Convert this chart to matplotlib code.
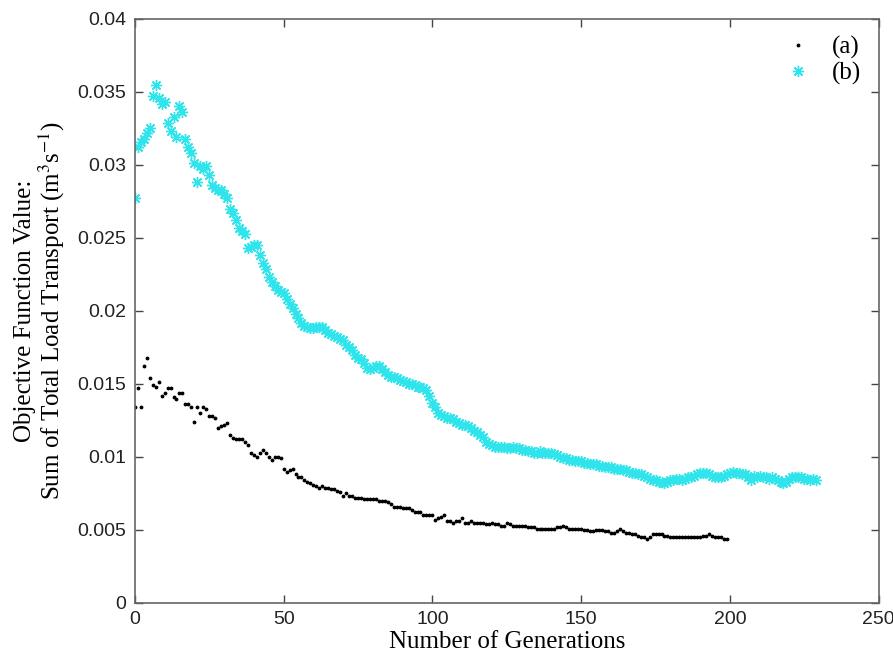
import numpy as np
import matplotlib
matplotlib.use("Agg")
import matplotlib.pyplot as plt

matplotlib.rcParams['mathtext.fontset'] = 'stix'

# (a) black dots, generations 0..199
gen_a = np.arange(0, 200)
obj_a = [
    .0134, .0147, .0134, .0162, .0168, .0154, .0149, .0148, .0151, .0142,
    .0144, .0147, .0147, .0141, .0140, .0144, .0144, .0136, .0136, .0134,
    .0124, .0134, .0130, .0134, .0133, .0128, .0128, .0127, .0120, .0121,
    .0122, .0123, .0115, .0113, .0112, .0112, .0112, .0110, .0108, .0103,
    .0101, .0100, .0103, .0105, .0103, .0100, .0098, .0100, .0100, .0099,
    .0092, .0090, .0091, .0092, .0088, .0086, .0086, .0084, .0083, .0082,
    .0081, .0080, .0079, .0080, .0079, .0079, .0078, .0078, .0077, .0076,
    .0073, .0075, .0073, .0073, .0072, .0072, .0072, .0071, .0071, .0071,
    .0071, .0071, .0070, .0070, .0070, .0069, .0068, .0066, .0066, .0066,
    .0065, .0065, .0065, .0064, .0062, .0062, .0062, .0060, .0060, .0060,
    .0060, .0057, .0058, .0059, .0060, .0056, .0056, .0055, .0056, .0056,
    .0058, .0055, .0055, .0056, .0055, .0055, .0055, .0055, .0054, .0054,
    .0055, .0054, .0054, .0053, .0053, .0055, .0054, .0053, .0053, .0053,
    .0053, .0053, .0052, .0052, .0052, .0051, .0051, .0051, .0051, .0051,
    .0051, .0051, .0052, .0052, .0053, .0052, .0051, .0051, .0051, .0051,
    .0051, .0050, .0050, .0049, .0049, .0050, .0050, .0050, .0049, .0049,
    .0048, .0048, .0049, .0051, .0049, .0048, .0048, .0047, .0047, .0046,
    .0045, .0045, .0044, .0045, .0047, .0047, .0047, .0047, .0046, .0046,
    .0045, .0045, .0045, .0045, .0045, .0045, .0045, .0045, .0045, .0045,
    .0045, .0046, .0046, .0047, .0046, .0045, .0045, .0045, .0044, .0044,
]

# (b) cyan asterisks, generations 0..229
gen_b = np.arange(0, 230)
obj_b = [
    .0277, .0312, .0316, .0318, .0322, .0325, .0347, .0355, .0346, .0342,
    .0343, .0329, .0323, .0333, .0319, .0340, .0336, .0318, .0312, .0308,
    .0301, .0288, .0299, .0297, .0299, .0293, .0286, .0284, .0283, .0283,
    .0280, .0277, .0270, .0267, .0262, .0257, .0255, .0253, .0243, .0244,
    .0245, .0245, .0238, .0233, .0229, .0223, .0220, .0217, .0214, .0213,
    .0212, .0208, .0205, .0202, .0198, .0195, .0192, .0190, .0189, .0188,
    .0188, .0189, .0189, .0189, .0187, .0185, .0184, .0183, .0182, .0181,
    .0180, .0177, .0175, .0173, .0170, .0168, .0167, .0164, .0161, .0160,
    .0161, .0162, .0162, .0160, .0158, .0156, .0155, .0155, .0154, .0153,
    .0152, .0151, .0150, .0150, .0149, .0148, .0148, .0147, .0146, .0142,
    .0137, .0134, .0130, .0129, .0128, .0127, .0127, .0126, .0124, .0123,
    .0122, .0122, .0121, .0120, .0118, .0117, .0115, .0114, .0110, .0109,
    .0108, .0107, .0107, .0107, .0107, .0106, .0106, .0107, .0106, .0106,
    .0105, .0105, .0104, .0104, .0103, .0103, .0104, .0103, .0103, .0103,
    .0103, .0102, .0101, .0100, .0099, .0099, .0098, .0098, .0097, .0097,
    .0097, .0096, .0096, .0095, .0095, .0095, .0094, .0094, .0093, .0093,
    .0093, .0092, .0092, .0092, .0091, .0091, .0090, .0089, .0089, .0088,
    .0088, .0087, .0086, .0085, .0084, .0084, .0083, .0083, .0082, .0083,
    .0084, .0084, .0085, .0085, .0084, .0085, .0086, .0086, .0087, .0088,
    .0089, .0089, .0089, .0088, .0087, .0086, .0086, .0086, .0087, .0088,
    .0089, .0090, .0089, .0089, .0088, .0088, .0086, .0084, .0087, .0086,
    .0087, .0086, .0086, .0085, .0086, .0085, .0084, .0083, .0082, .0083,
    .0085, .0086, .0086, .0086, .0086, .0085, .0085, .0084, .0085, .0084,
]

x_ticks = [0, 50, 100, 150, 200, 250]
y_ticks = [0, 0.005, 0.01, 0.015, 0.02, 0.025, 0.03, 0.035, 0.04]
y_tick_labels = ["0", "0.005", "0.01", "0.015", "0.02", "0.025", "0.03", "0.035", "0.04"]

fig = plt.figure(figsize=(8.93, 6.6), dpi=100)
ax = fig.add_axes([0.151, 0.0864, 0.833, 0.885])

ax.plot(gen_a, obj_a, ".", color="black", markersize=3.5, label="(a)")
ax.plot(gen_b, obj_b, linestyle="none", marker=(8, 2, 0), color="#30e4ec",
        markersize=8, markeredgewidth=1.0, label="(b)")

ax.set_xlim(0, 250)
ax.set_ylim(0, 0.04)
ax.set_xticks(x_ticks)
ax.set_yticks(y_ticks)
ax.set_yticklabels(y_tick_labels)
ax.tick_params(direction="in", length=6, width=1, top=True, right=True,
               colors="#444444", labelcolor="#222222", labelsize=14, pad=6)
for lab in ax.get_xticklabels() + ax.get_yticklabels():
    lab.set_family("Liberation Sans")
for sp in ax.spines.values():
    sp.set_color("#666666")
    sp.set_linewidth(1.2)

ax.set_xlabel("Number of Generations", family="Liberation Serif", fontsize=18, labelpad=2)
ax.set_ylabel("Objective Function Value:\nSum of Total Load Transport (m$^{3}$s$^{-1}$)",
              family="Liberation Serif", fontsize=18, linespacing=1.0, labelpad=8)

leg = ax.legend(loc="upper right", frameon=False, prop={"family": "Liberation Serif", "size": 18},
                handletextpad=0.6, borderaxespad=0.3, labelspacing=0.1, handlelength=1.5)

fig.savefig("out.png", dpi=100)
